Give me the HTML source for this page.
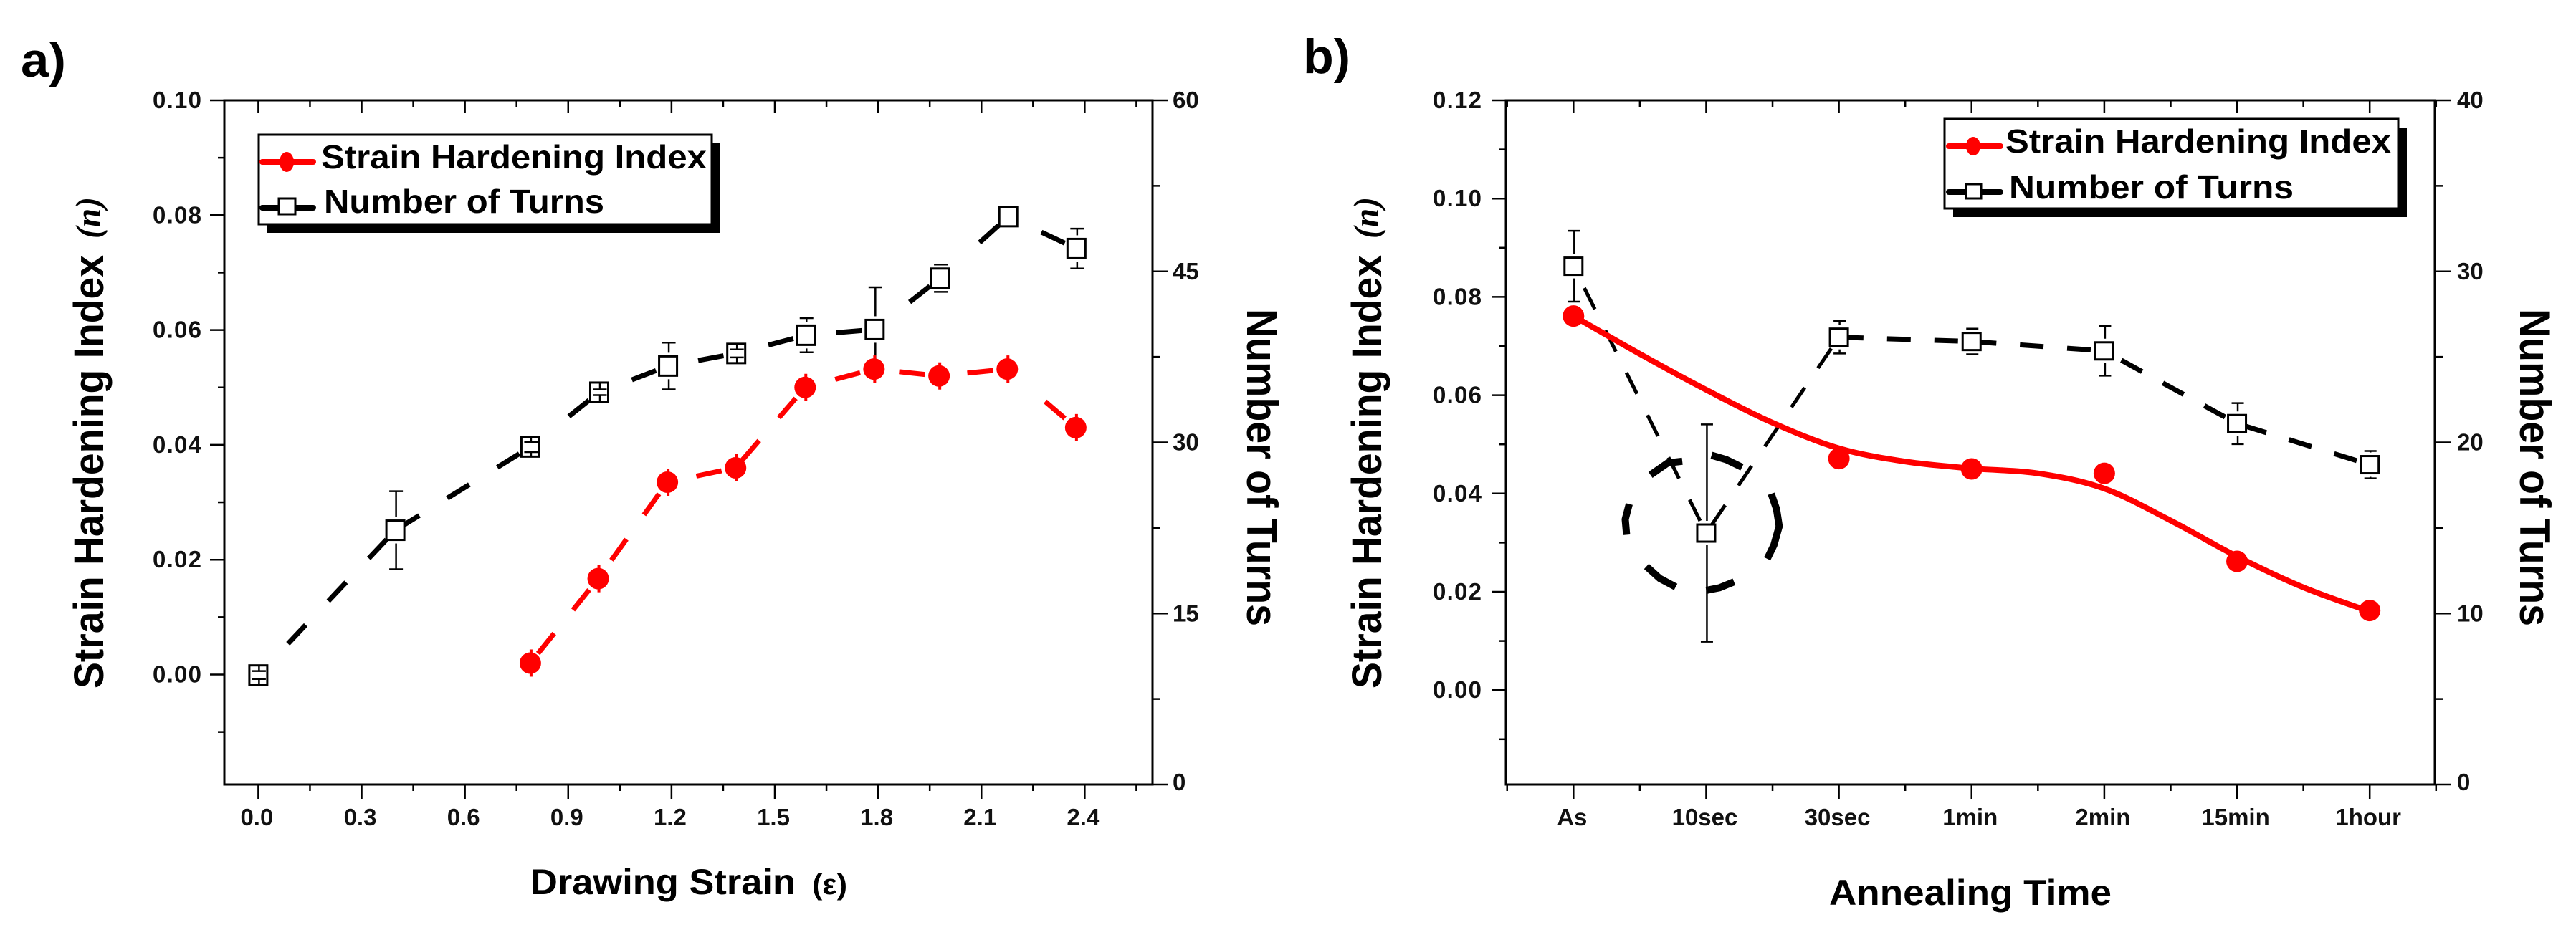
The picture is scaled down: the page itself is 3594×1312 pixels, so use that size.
<!DOCTYPE html>
<html lang="en">
<head>
<meta charset="utf-8">
<title>Strain hardening index and number of turns</title>
<style>
html,body{margin:0;padding:0;background:#fff;width:3594px;height:1312px;overflow:hidden}
svg{display:block}
text{font-family:"Liberation Sans",sans-serif;font-weight:bold;fill:#000}
.tick{font-size:33px;fill:#111}
</style>
</head>
<body>
<svg id="fig" xmlns="http://www.w3.org/2000/svg" width="3594" height="1312" viewBox="0 0 3594 1312">
  <rect x="0" y="0" width="3594" height="1312" fill="#fff"/>

  <text x="29" y="107" font-size="68" textLength="63" lengthAdjust="spacingAndGlyphs">a)</text>
  <text x="1818" y="102" font-size="68" textLength="66" lengthAdjust="spacingAndGlyphs">b)</text>

  <g id="chartA"></g>
  <g id="chartB"></g>

  <text transform="translate(144,961) rotate(-90)" font-size="58" textLength="605" lengthAdjust="spacingAndGlyphs">Strain Hardening Index</text>
  <text transform="translate(140,333) rotate(-90)" font-size="50" textLength="58" lengthAdjust="spacingAndGlyphs" style="font-family:'Liberation Serif',serif;font-style:italic">(n)</text>
  <text transform="translate(1740,431) rotate(90)" font-size="60" textLength="443" lengthAdjust="spacingAndGlyphs">Number of Turns</text>
  <text x="740" y="1248" font-size="50" textLength="370" lengthAdjust="spacingAndGlyphs">Drawing Strain</text>
  <text x="1133" y="1248" font-size="40" textLength="49" lengthAdjust="spacingAndGlyphs">(ε)</text>

  <text transform="translate(1927,961) rotate(-90)" font-size="58" textLength="605" lengthAdjust="spacingAndGlyphs">Strain Hardening Index</text>
  <text transform="translate(1923,333) rotate(-90)" font-size="50" textLength="58" lengthAdjust="spacingAndGlyphs" style="font-family:'Liberation Serif',serif;font-style:italic">(n)</text>
  <text transform="translate(3516,431) rotate(90)" font-size="60" textLength="443" lengthAdjust="spacingAndGlyphs">Number of Turns</text>
  <text x="2552" y="1263" font-size="50" textLength="394" lengthAdjust="spacingAndGlyphs">Annealing Time</text>

  <g>
    <rect x="373" y="200" width="632" height="125" fill="#000"/>
    <rect x="361" y="188" width="632" height="125" fill="#fff" stroke="#000" stroke-width="3"/>
    <line x1="366" y1="226" x2="437" y2="226" stroke="#f00" stroke-width="8" stroke-linecap="round"/>
    <ellipse cx="400" cy="226" rx="10" ry="14" fill="#f00"/>
    <text x="448" y="235" font-size="46" textLength="538" lengthAdjust="spacingAndGlyphs">Strain Hardening Index</text>
    <line x1="366" y1="290" x2="437" y2="290" stroke="#000" stroke-width="8" stroke-linecap="round"/>
    <rect x="389" y="277" width="23" height="22" fill="#fff" stroke="#000" stroke-width="3"/>
    <text x="452" y="297" font-size="46" textLength="391" lengthAdjust="spacingAndGlyphs">Number of Turns</text>
  </g>

  <g>
    <rect x="2725" y="178" width="633" height="125" fill="#000"/>
    <rect x="2713" y="166" width="633" height="125" fill="#fff" stroke="#000" stroke-width="3"/>
    <line x1="2719" y1="204" x2="2791" y2="204" stroke="#f00" stroke-width="8" stroke-linecap="round"/>
    <ellipse cx="2753" cy="204" rx="10" ry="13" fill="#f00"/>
    <text x="2798" y="213" font-size="46" textLength="538" lengthAdjust="spacingAndGlyphs">Strain Hardening Index</text>
    <line x1="2719" y1="268" x2="2791" y2="268" stroke="#000" stroke-width="8" stroke-linecap="round"/>
    <rect x="2743" y="257" width="21" height="20" fill="#fff" stroke="#000" stroke-width="3"/>
    <text x="2803" y="277" font-size="46" textLength="397" lengthAdjust="spacingAndGlyphs">Number of Turns</text>
  </g>
</svg>

<script>
// ---- Chart a data ----
const aXLabels = ['0.0','0.3','0.6','0.9','1.2','1.5','1.8','2.1','2.4'];
const aYLabels = ['0.00','0.02','0.04','0.06','0.08','0.10'];
const aRightLabels = ['0','15','30','45','60'];
const aIndexStrain = [0.79,0.987,1.188,1.386,1.588,1.788,1.977,2.175,2.374];
const aIndexValues = [0.002,0.0167,0.0335,0.036,0.05,0.0532,0.052,0.0532,0.043];
const aTurnsStrain = [0,0.398,0.79,0.99,1.19,1.388,1.59,1.79,1.98,2.178,2.376];
const aTurnsValues = [9.6,22.3,29.6,34.4,36.7,37.8,39.4,39.9,44.4,49.8,47.0];
const aTurnsError = [0.35,3.42,0.45,0.25,2.05,0.35,1.5,3.7,1.2,0,1.75];

// ---- Chart b data ----
const bCategories = ['As','10sec','30sec','1min','2min','15min','1hour'];
const bYLabels = ['0.00','0.02','0.04','0.06','0.08','0.10','0.12'];
const bRightLabels = ['0','10','20','30','40'];
const bIndexCat = [0,2,3,4,5,6];
const bIndexValues = [0.0761,0.0471,0.045,0.0441,0.0262,0.0162];
const bFitCat = [0,0.5,1,1.5,2,2.5,3,3.5,4,4.5,5,5.5,6];
const bFitValues = [0.0761,0.0684,0.0611,0.0544,0.0492,0.0465,0.0451,0.0441,0.041,0.0345,0.0272,0.0209,0.016];
const bTurnsValues = [30.3,14.7,26.15,25.9,25.35,21.1,18.7];
const bTurnsError = [2.07,6.35,0.95,0.75,1.45,1.2,0.8];
// dashed loop drawn by the original spline around the 10sec point
const bLoopCat = [
  [0.58,0.71,0.82],
  [1.04,1.15,1.27],
  [1.49,1.53,1.55,1.51,1.46],
  [1.21,1.10,1.0],
  [0.77,0.65,0.55],
  [0.4,0.39,0.42]
];
const bLoopTurns = [
  [18.1,18.8,18.9],
  [19.25,19.0,18.55],
  [17.0,16.1,15.1,14.0,13.2],
  [11.85,11.5,11.35],
  [11.55,12.05,12.75],
  [14.6,15.5,16.4]
];

const NS = 'http://www.w3.org/2000/svg';
function mk(parent, tag, attrs) {
  const el = document.createElementNS(NS, tag);
  for (const k in attrs) el.setAttribute(k, attrs[k]);
  parent.appendChild(el);
  return el;
}
function tickValues(labels) { return labels.map(Number); }
function withMinors(major, lo, hi) {
  const step = major[1] - major[0], out = [];
  for (let i = -1; i < major.length + 1; i++) {
    const v = (major[0] + i * step) + step / 2;
    if (v >= lo - 1e-9 && v <= hi + 1e-9) out.push(v);
  }
  return out;
}

function drawFrame(root, P, xMajor, xLabels, yLabels, rLabels, X, Y, R) {
  const frame = mk(root, 'g', {});
  
  
  const lineStyle = {stroke:'#000','stroke-width':3};
  const sides = [[P.l,P.t,P.r,P.t],[P.l,P.b,P.r,P.b],[P.l,P.t,P.l,P.b],[P.r,P.t,P.r,P.b]];
  sides.forEach(function (s) {
    const ln = mk(frame, 'line', Object.assign({x1:s[0],y1:s[1],x2:s[2],y2:s[3],'stroke-linecap':'square'}, lineStyle));
    
    
  });
  const xMinor = withMinors(xMajor, P.xMin, P.xMax);
  function xTick(v, top, bot) {
    const a = mk(frame, 'line', {x1:X(v),x2:X(v),y1:P.b,y2:P.b+bot,stroke:'#000','stroke-width':2.5});
    
    
    const b = mk(frame, 'line', {x1:X(v),x2:X(v),y1:P.t,y2:P.t+top,stroke:'#000','stroke-width':2.5});
    
    
  }
  xMajor.forEach(function (v) { xTick(v, 18, 20); });
  xMinor.forEach(function (v) { xTick(v, 9, 9); });
  xMajor.forEach(function (v, i) {
    const t = mk(frame, 'text', {x:X(v)-2,y:1152,'text-anchor':'middle','class':'tick'});
    
    
    t.textContent = xLabels[i];
  });
  const yMajor = tickValues(yLabels);
  function yTick(v, len) {
    const a = mk(frame, 'line', {x1:P.l-len,x2:P.l,y1:Y(v),y2:Y(v),stroke:'#000','stroke-width':2.5});
    
    
  }
  yMajor.forEach(function (v) { yTick(v, 20); });
  withMinors(yMajor, P.yMin, P.yMax).forEach(function (v) { yTick(v, 9); });
  yMajor.forEach(function (v, i) {
    const t = mk(frame, 'text', {x:P.yLabelX,y:Y(v)+11,'text-anchor':'end','class':'tick',textLength:68,lengthAdjust:'spacing'});
    
    
    t.textContent = yLabels[i];
  });
  const rMajor = tickValues(rLabels);
  function rTick(v, len) {
    const a = mk(frame, 'line', {x1:P.r,x2:P.r+len,y1:R(v),y2:R(v),stroke:'#000','stroke-width':2.5});
    
    
  }
  rMajor.forEach(function (v) { rTick(v, 22); });
  withMinors(rMajor, 0, P.rMax).forEach(function (v) { rTick(v, 11); });
  rMajor.forEach(function (v, i) {
    const dy = v === 0 ? 8 : 11;
    const t = mk(frame, 'text', {x:P.rLabelX,y:R(v)+dy,'class':'tick'});
    
    
    t.textContent = rLabels[i];
  });
}

// The original dashes restart on every segment, measured back from the next point.
// Short segments carry a single dash only.
function drawDashedSegments(root, name, xs, ys, X, Y, color, dash, gap, lead, widthFor) {
  for (let i = 0; i < xs.length - 1; i++) {
    const x1 = X(xs[i + 1]), y1 = Y(ys[i + 1]), x2 = X(xs[i]), y2 = Y(ys[i]);
    const len = Math.hypot(x2 - x1, y2 - y1);
    const g = len < 140 ? 1000 : gap;
    const seg = mk(root, 'line', {x1:x1,y1:y1,x2:x2,y2:y2,fill:'none',stroke:color,'stroke-width':widthFor(len),'stroke-dasharray':dash + ' ' + g,'stroke-dashoffset':dash + g - lead});
    
    
  }
}

function polyPoints(xs, ys, X, Y) {
  return xs.map(function (v, i) { return X(v).toFixed(1) + ',' + Y(ys[i]).toFixed(1); }).join(' ');
}

function drawTurnsMarkers(root, xs, ys, errs, X, R, w, h, capW) {
  xs.forEach(function (v, i) {
    const cx = X(v), cy = R(ys[i]);
    const sq = mk(root, 'rect', {x:cx-w/2,y:cy-h/2,width:w,height:h,fill:'#fff',stroke:'#000','stroke-width':3});
    
    
    if (!errs[i]) return;
    const px = Math.abs(R(ys[i] + errs[i]) - cy);
    [-1, 1].forEach(function (sign) {
      const capY = cy + sign * px;
      const edge = cy + sign * (px > h/2 ? h/2 + 5 : h/2);
      const stem = mk(root, 'line', {x1:cx+1,x2:cx+1,y1:edge,y2:capY,stroke:'#000','stroke-width':2.5});
      
      
      const cap = mk(root, 'line', {x1:cx+1-capW/2,x2:cx+1+capW/2,y1:capY,y2:capY,stroke:'#000','stroke-width':2.5});
      
      
    });
  });
}

function drawIndexMarkers(root, xs, ys, X, Y, tip) {
  xs.forEach(function (v, i) {
    const cx = X(v), cy = Y(ys[i]);
    const c = mk(root, 'circle', {cx:cx,cy:cy,r:15,fill:'#f00'});
    
    
    if (tip) {
      const p = mk(root, 'line', {x1:cx+1,x2:cx+1,y1:cy-19,y2:cy+19,stroke:'#f00','stroke-width':4});
      
      
    }
  });
}

// ---- Chart a ----
(function () {
  const root = document.getElementById('chartA');
  const P = {l:313,r:1608,t:140,b:1095,xMin:-0.1,xMax:2.6,yMin:-0.0192,yMax:0.1,rMax:60,yLabelX:281,rLabelX:1636};
  const X = function (v) { return 360.4 + 480.4 * v; };
  const Y = function (v) { return 941.5 - 8015 * v; };
  const R = function (v) { return P.b - (P.b - P.t) / P.rMax * v; };
  const xMajor = tickValues(aXLabels);
  drawFrame(root, P, xMajor, aXLabels, aYLabels, aRightLabels, X, Y, R);

  drawDashedSegments(root, 'a-turns-line-segment', aTurnsStrain, aTurnsValues, X, R, '#000', 36, 46, 18, function () { return 7; });
  drawDashedSegments(root, 'a-index-line-segment', aIndexStrain, aIndexValues, X, Y, '#f00', 36, 42, 20, function () { return 7; });
  drawTurnsMarkers(root, aTurnsStrain, aTurnsValues, aTurnsError, X, R, 25, 27, 19);
  drawIndexMarkers(root, aIndexStrain, aIndexValues, X, Y, true);
})();

// ---- Chart b ----
(function () {
  const root = document.getElementById('chartB');
  const P = {l:2101,r:3397,t:140,b:1095,xMin:-0.5,xMax:6.5,yMin:-0.0191,yMax:0.12,rMax:40,yLabelX:2067,rLabelX:3428};
  const X = function (v) { return 2195.3 + 185.15 * v; };
  const Y = function (v) { return 963.2 - 6860 * v; };
  const R = function (v) { return P.b - (P.b - P.t) / P.rMax * v; };
  const xMajor = bCategories.map(function (c, i) { return i; });
  drawFrame(root, P, xMajor, bCategories, bYLabels, bRightLabels, X, Y, R);

  drawDashedSegments(root, 'b-turns-line-segment', xMajor, bTurnsValues, X, R, '#000', 33, 33, 19, function (len) { return len > 300 ? 5 : 7; });

  bLoopCat.forEach(function (cats, i) {
    const seg = mk(root, 'polyline', {points:polyPoints(cats, bLoopTurns[i], X, R),fill:'none',stroke:'#000','stroke-width':10,'stroke-linejoin':'round'});
    
    
  });

  // smooth fit through the readings (Catmull-Rom)
  const pts = bFitCat.map(function (v, i) { return [X(v), Y(bFitValues[i])]; });
  let d = 'M' + pts[0][0] + ' ' + pts[0][1];
  for (let i = 0; i < pts.length - 1; i++) {
    const p0 = pts[Math.max(0, i - 1)], p1 = pts[i], p2 = pts[i + 1], p3 = pts[Math.min(pts.length - 1, i + 2)];
    d += ' C' + (p1[0] + (p2[0] - p0[0]) / 6) + ' ' + (p1[1] + (p2[1] - p0[1]) / 6) + ' ' +
         (p2[0] - (p3[0] - p1[0]) / 6) + ' ' + (p2[1] - (p3[1] - p1[1]) / 6) + ' ' + p2[0] + ' ' + p2[1];
  }
  const red = mk(root, 'path', {d:d,fill:'none',stroke:'#f00','stroke-width':8});
  
  

  drawTurnsMarkers(root, xMajor, bTurnsValues, bTurnsError, X, R, 25, 24, 17);
  drawIndexMarkers(root, bIndexCat, bIndexValues, X, Y, false);
})();
</script>
</body>
</html>
